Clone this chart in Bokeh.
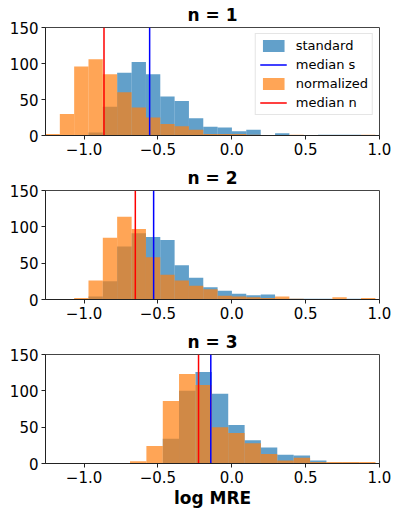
from bokeh.plotting import figure
from bokeh.layouts import column
from bokeh.models import Range1d, FixedTicker, CustomJSTickFormatter, Legend, LegendItem
from bokeh.embed import file_html
from bokeh.resources import INLINE

# ---- data ----
titles = ["n = 1", "n = 2", "n = 3"]
x_ticks = [-1.0, -0.5, 0.0, 0.5, 1.0]
y_ticks = [0, 50, 100, 150]
x_lim = (-1.261, 1.0)
y_lim = (0, 150)

edges_12 = [-1.261, -1.164, -1.067, -0.970, -0.873, -0.776, -0.678, -0.581,
            -0.484, -0.387, -0.290, -0.193, -0.096, 0.001, 0.098, 0.196,
            0.293, 0.390, 0.487, 0.584, 0.681, 0.778, 0.875, 0.972]
edges_3 = [-0.689, -0.578, -0.467, -0.357, -0.246, -0.135, -0.024, 0.087,
           0.197, 0.308, 0.419, 0.530, 0.641, 0.752, 0.862, 0.973]

standard_1 = [0, 0, 0, 4, 40, 87, 102, 85, 54, 48, 24, 12, 11, 6, 8, 0, 3, 0, 0, 1, 1, 1, 0]
normalized_1 = [2, 30, 96, 106, 85, 60, 39, 25, 16, 13, 8, 2, 2, 2, 1, 0, 0, 1, 0, 0, 0, 0, 1]
standard_2 = [0, 0, 0, 4, 25, 73, 91, 86, 82, 47, 30, 17, 12, 8, 6, 7, 1, 1, 1, 1, 0, 1, 0]
normalized_2 = [0, 0, 2, 26, 85, 114, 97, 58, 34, 26, 19, 14, 5, 4, 3, 2, 4, 1, 0, 0, 3, 0, 2]
standard_3 = [0, 0, 34, 100, 126, 96, 53, 32, 22, 12, 11, 4, 1, 1, 0]
normalized_3 = [3, 24, 86, 123, 108, 50, 42, 28, 13, 4, 8, 2, 2, 2, 2]

median_standard = [-0.556, -0.529, -0.142]
median_normalized = [-0.865, -0.653, -0.225]

# ---- styling ----
FONT = "DejaVu Sans"
BLUE = "#1f77b4"
ORANGE = "#ff7f0e"

fmt = CustomJSTickFormatter(code="""
const s = Math.abs(tick).toFixed(1);
return (tick < -1e-9 ? "\u2212" : "") + s;
""")


def panel(idx, edges, std, norm, ms, mn, top, fh, bottom, xlabel=None, legend=False):
    p = figure(frame_width=334, frame_height=fh, output_backend="svg",
               toolbar_location=None, x_range=Range1d(*x_lim), y_range=Range1d(*y_lim),
               min_border_left=45, min_border_right=20, min_border_top=top,
               min_border_bottom=bottom)
    p.title.text = titles[idx]
    p.title.align = "center"
    p.title.text_font = FONT
    p.title.text_font_style = "bold"
    p.title.text_font_size = "17px"
    p.title.text_color = "black"
    p.title.standoff = 5
    p.xgrid.visible = False
    p.ygrid.visible = False
    p.outline_line_color = "#444444"
    p.outline_line_width = 1
    p.background_fill_color = "white"
    p.border_fill_color = "white"
    for ax in (p.xaxis[0], p.yaxis[0]):
        ax.major_tick_out = 4
        ax.major_tick_in = 0
        ax.minor_tick_line_color = None
        ax.major_label_text_font = FONT
        ax.major_label_text_font_size = "15px"
        ax.major_label_text_color = "black"
        ax.axis_line_color = "#222222"
        ax.major_tick_line_color = "#222222"
        ax.major_label_standoff = 3
    p.xaxis.ticker = FixedTicker(ticks=x_ticks)
    p.xaxis.formatter = fmt
    p.yaxis.ticker = FixedTicker(ticks=y_ticks)
    if xlabel:
        p.xaxis.axis_label = xlabel
        p.xaxis.axis_label_text_font = FONT
        p.xaxis.axis_label_text_font_style = "bold"
        p.xaxis.axis_label_text_font_size = "17px"
        p.xaxis.axis_label_text_color = "black"
        p.xaxis.axis_label_standoff = 2

    rb = p.quad(left=edges[:-1], right=edges[1:], bottom=0, top=std,
                fill_color=BLUE, fill_alpha=0.7, line_color=None)
    ro = p.quad(left=edges[:-1], right=edges[1:], bottom=0, top=norm,
                fill_color=ORANGE, fill_alpha=0.7, line_color=None)
    ls = p.segment(x0=[ms], y0=[y_lim[0]], x1=[ms], y1=[y_lim[1]],
                   line_color="#0000ff", line_width=1.5)
    ln = p.segment(x0=[mn], y0=[y_lim[0]], x1=[mn], y1=[y_lim[1]],
                   line_color="#ff0000", line_width=1.5)
    if legend:
        lg = Legend(items=[LegendItem(label="standard", renderers=[rb]),
                           LegendItem(label="median s", renderers=[ls]),
                           LegendItem(label="normalized", renderers=[ro]),
                           LegendItem(label="median n", renderers=[ln])],
                    location="top_right", margin=6, padding=4, spacing=4,
                    glyph_width=27, glyph_height=15, label_height=15,
                    label_standoff=9, label_text_font=FONT,
                    label_text_font_size="13px", label_text_color="black",
                    border_line_color="#cccccc", border_line_width=1,
                    background_fill_alpha=0.8)
        p.add_layout(lg)
    return p


p1 = panel(0, edges_12, standard_1, normalized_1, median_standard[0], median_normalized[0],
           27, 108, 28, legend=True)
p2 = panel(1, edges_12, standard_2, normalized_2, median_standard[1], median_normalized[1],
           27, 109, 28)
p3 = panel(2, edges_3, standard_3, normalized_3, median_standard[2], median_normalized[2],
           26, 109, 51, xlabel="log MRE")

layout = column(p1, p2, p3, spacing=0)
open("out.html", "w").write(file_html(layout, INLINE))
